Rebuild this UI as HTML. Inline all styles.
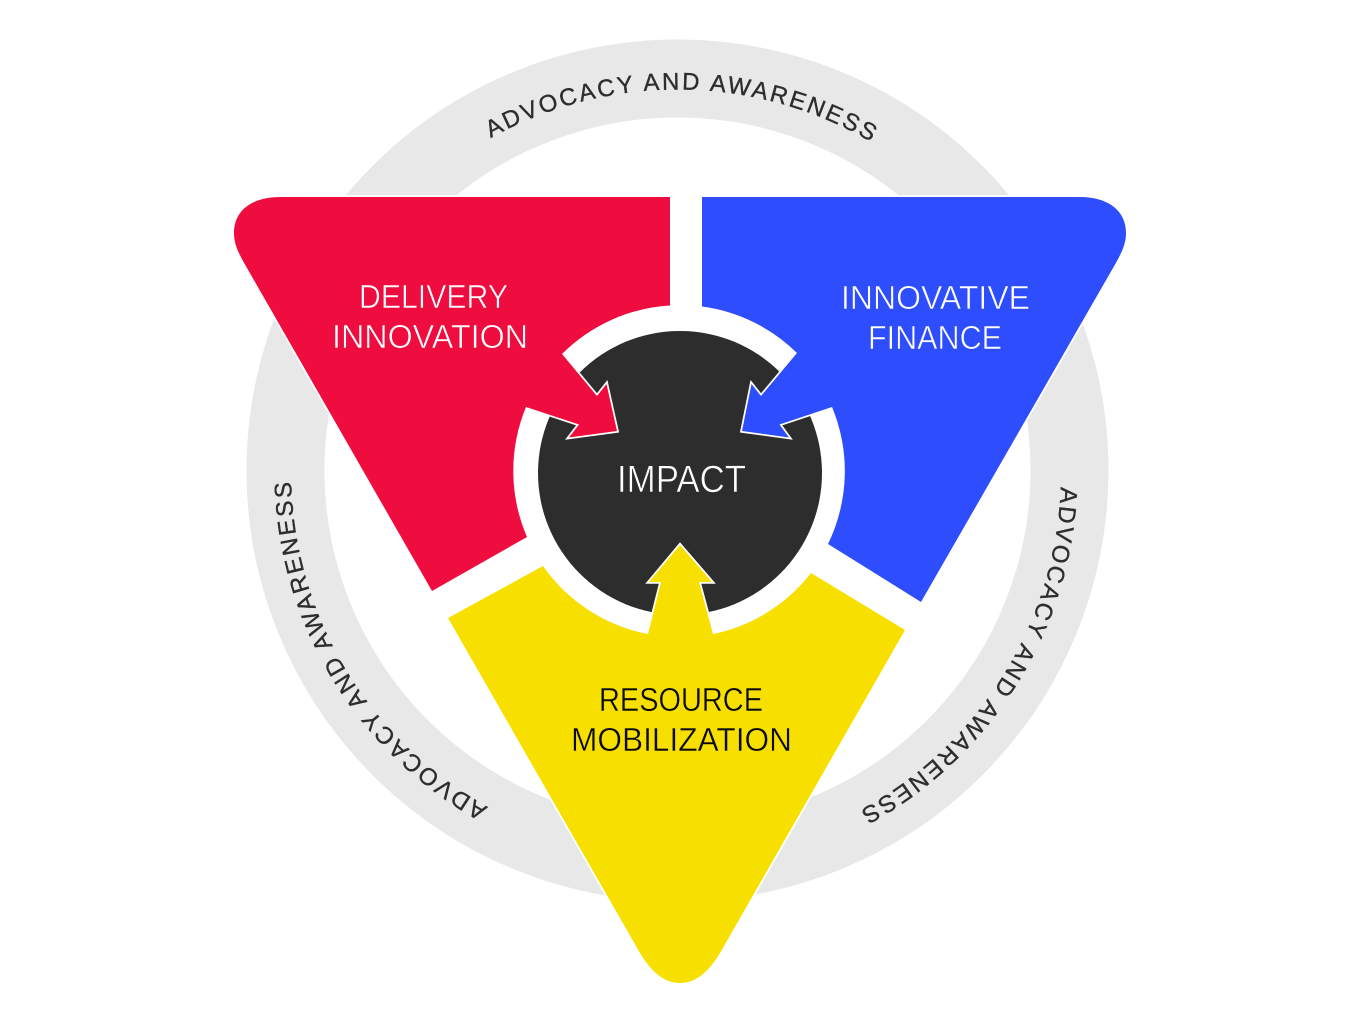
<!DOCTYPE html>
<html><head><meta charset="utf-8"><style>html,body{margin:0;padding:0;background:#fff}svg{display:block}
text{font-family:"Liberation Sans",sans-serif}</style></head><body>
<svg width="1360" height="1025" viewBox="0 0 1360 1025" xmlns="http://www.w3.org/2000/svg">
<defs><path id="a" d="M345.4,281.25 A383.5,383.5 0 0 1 1009.6,281.25"/></defs>
<circle cx="677.5" cy="470.5" r="392" fill="none" stroke="#e8e8e8" stroke-width="78"/>
<g fill="#2d2d2d" stroke="#2d2d2d" stroke-width=".35" font-size="24" text-anchor="middle" letter-spacing="2.4">
<text transform="rotate(0.75 677.5 473)"><textPath href="#a" startOffset="50%">ADVOCACY AND AWARENESS</textPath></text>
<text transform="rotate(122 677.5 473)"><textPath href="#a" startOffset="50%">ADVOCACY AND AWARENESS</textPath></text>
<text transform="translate(-3,-1) rotate(239 677.5 473)"><textPath href="#a" startOffset="50%">ADVOCACY AND AWARENESS</textPath></text>
</g>
<circle cx="680" cy="473" r="142" fill="#2d2d2d"/>
<g stroke="#fff" stroke-width="3.5" stroke-linejoin="miter" stroke-miterlimit="6" paint-order="stroke">
<path fill="#ef0c3e" d="M670,197 V305.5 A166.5,166.5 0 0 0 562,354 L597,396 L606.5,384 L617,431 L569,437.5 L579,424.5 L526,407 A166.5,166.5 0 0 0 527,537 L432,591 L247,268 C239,254 234,245 234,233 C234,211 251,197 281,197 Z"/>
<path fill="#2e4dfd" d="M702,197 V306.5 A166.5,166.5 0 0 1 797,353 L761,396 L751.5,384 L742,431 L789,437.5 L779.5,424.5 L832,407 A166.5,166.5 0 0 1 828,544 L921,602 L1113,268 C1121,254 1126,245 1126,233 C1126,211 1109,197 1079,197 Z"/>
<path fill="#f7e000" d="M448,618 L543,566 A166.5,166.5 0 0 0 648,634 L661,582 L649,582 L680,545 L712,582 L699,582 L713,634 A166.5,166.5 0 0 0 811,573 L905,630 L720,953 C708,973 695,983 680,983 C665,983 652,973 640,953 Z"/>
</g>
<g text-anchor="start">
<g fill="#fff" font-size="33" stroke="#ef0c3e" stroke-width=".6">
<text x="359" y="308" textLength="149" lengthAdjust="spacingAndGlyphs">DELIVERY</text>
<text x="332" y="348" textLength="196" lengthAdjust="spacingAndGlyphs">INNOVATION</text>
</g>
<g fill="#fff" font-size="33" stroke="#2e4dfd" stroke-width=".6">
<text x="841" y="309" textLength="189" lengthAdjust="spacingAndGlyphs">INNOVATIVE</text>
<text x="868" y="349" textLength="134" lengthAdjust="spacingAndGlyphs">FINANCE</text>
</g>
<g fill="#0a0a0a" font-size="33" stroke="#f7e000" stroke-width=".4">
<text x="599" y="711" textLength="164" lengthAdjust="spacingAndGlyphs">RESOURCE</text>
<text x="571" y="751" textLength="221" lengthAdjust="spacingAndGlyphs">MOBILIZATION</text>
</g>
<text x="617" y="492" font-size="38" fill="#fff" stroke="#2d2d2d" stroke-width=".6" textLength="129" lengthAdjust="spacingAndGlyphs">IMPACT</text>
</g>
</svg>
</body></html>
